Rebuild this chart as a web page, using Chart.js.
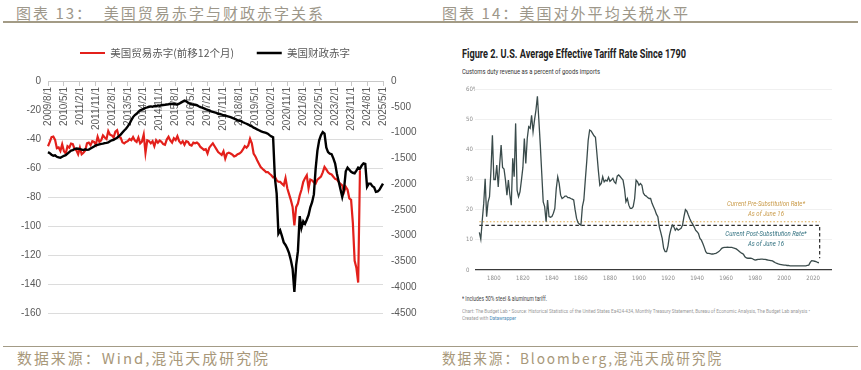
<!DOCTYPE html>
<html>
<head>
<meta charset="utf-8">
<script src="https://cdn.jsdelivr.net/npm/chart.js@4.4.1/dist/chart.umd.min.js"></script>
<style>
  html, body { margin: 0; padding: 0; background: #fff; }
  #page { position: relative; width: 861px; height: 370px; overflow: hidden; background: #fff; }
  .t { position: absolute; white-space: pre; transform-origin: 0 50%; }
  .hd { font-family: "Noto Sans CJK SC"; font-size: 15px; line-height: 20px; letter-spacing: 2px; color: #9d978a; }
  .src { font-family: "Noto Sans CJK SC"; font-size: 14.5px; line-height: 20px; letter-spacing: 2px; color: #a8987a; }
  .rule { position: absolute; height: 1.5px; background: #a39b86; }
  .dw { font-family: Roboto, "Liberation Sans"; color: #222; }
  canvas { position: absolute; }
</style>
</head>
<body>
<div id="page">
  <div class="t hd" style="left:16px;top:3px" data-w="309">图表 13：  美国贸易赤字与财政赤字关系</div>
  <div class="t hd" style="left:442px;top:3px" data-w="248">图表 14：美国对外平均关税水平</div>
  <div class="rule" style="left:3px;top:21px;width:855px"></div>

  <canvas id="c13" width="430" height="302" style="left:0;top:25px"></canvas>

  <div class="t dw" style="left:462px;top:46px;font-size:13px;font-weight:bold;line-height:16px" data-w="224">Figure 2. U.S. Average Effective Tariff Rate Since 1790</div>
  <div class="t dw" style="left:462px;top:67px;font-size:8px;line-height:10px;color:#333" data-w="138">Customs duty revenue as a percent of goods imports</div>
  <canvas id="c14" width="395" height="203" style="left:466px;top:81px"></canvas>
  <div class="t dw" style="left:462px;top:294.5px;font-size:7px;line-height:9px;color:#444" data-w="85">* Includes 50% steel &amp; aluminum tariff.</div>
  <div class="t dw" style="left:462px;top:306.5px;font-size:6px;line-height:8px;color:#999" data-w="348">Chart: The Budget Lab • Source: Historical Statistics of the United States Ea424-434, Monthly Treasury Statement, Bureau of Economic Analysis, The Budget Lab analysis •</div>
  <div class="t dw" style="left:462px;top:313.5px;font-size:6px;line-height:8px;color:#999" data-w="54">Created with <span style="color:#4a8ab5">Datawrapper</span></div>

  <div class="rule" style="left:3px;top:345.5px;width:855px"></div>
  <div class="t src" style="left:17px;top:348px" data-w="253">数据来源：Wind,混沌天成研究院</div>
  <div class="t src" style="left:442px;top:348px" data-w="281">数据来源：Bloomberg,混沌天成研究院</div>
</div>

<script>
// ---- chart 13: trade deficit vs fiscal deficit ----
var firstMonth = [2009, 8];
var lastMonth = [2025, 5];
var months = [];
for (var yr = firstMonth[0], mo = firstMonth[1]; yr < lastMonth[0] || (yr === lastMonth[0] && mo <= lastMonth[1]); ) {
  months.push(yr + "/" + mo + "/1");
  mo++;
  if (mo > 12) { mo = 1; yr++; }
}
var tickEvery = 9;

// US trade balance, bn USD, shifted forward 12 months (left axis)
var tradeDeficit = [
  -45, -42, -38.7, -38.3, -40.6,
  -46.3, -45.8, -48.2, -43.7, -48.5, -50, -45, -46, -43.1, -43.5, -47, -47.8,
  -50.5, -46, -50.5, -49.5, -48, -43, -42.5, -44.2, -41.5, -42, -44, -38.5,
  -42, -41, -37.5, -39, -40, -34.5, -37, -37.5, -39, -35, -34, -38.7,
  -39.1, -42.3, -43, -42, -41.5, -40, -40.8, -38.7, -41, -42, -39, -43,
  -41.8, -37, -49.5, -40.9, -41.5, -43, -41.5, -45, -40.8, -42.5, -41, -42,
  -43.5, -44, -40.4, -38.5, -41, -42.5, -39.5, -40.7, -38, -41.5, -43, -41.5,
  -44, -41.5, -42, -44, -44.5, -42.5, -43, -42.4, -43.5, -45.5, -46.5, -47.5,
  -47, -50, -46, -44.4, -43, -45, -47, -49, -50, -51, -48.5, -53.5,
  -50, -49.4, -50, -50.8, -52, -51.5, -50.5, -50, -49, -47.2, -45, -46,
  -44.4, -39.9, -43, -50, -52, -54.7, -57, -59.3, -60.5, -61.6, -62.8, -62.8,
  -64, -65, -66.5, -66, -68.5, -69.5, -69.6, -70.8, -72, -67, -74, -78,
  -82, -86.8, -99.5, -87, -84.5, -79, -75, -69.6, -67, -65, -74, -68,
  -68.5, -70, -70.8, -68, -67, -66, -63, -59.3, -61, -63, -64, -64.5,
  -66, -67.5, -68, -69.6, -71, -72, -76.5, -73, -75, -81, -82, -98,
  -124, -129, -139, -61.6
];

// US federal deficit, rolling 12 months, bn USD (right axis)
var fiscalDeficit = [
  -1380, -1400, -1430, -1450, -1440,
  -1470, -1480, -1490, -1470, -1450, -1440, -1410, -1380, -1350, -1340, -1320, -1310,
  -1313, -1320, -1330, -1340, -1325, -1335, -1330, -1310, -1290, -1270, -1250, -1240,
  -1230, -1220, -1215, -1205, -1200, -1190, -1170, -1150, -1140, -1120, -1100, -1070,
  -1040, -1000, -960, -926, -880, -829, -760, -700, -660, -635, -600, -570,
  -555, -540, -519, -510, -500, -493, -500, -485, -490, -474, -480, -470,
  -465, -461, -455, -450, -441, -445, -441, -450, -455, -440, -420, -400,
  -380, -395, -420, -441, -450, -455, -461, -470, -490, -507, -515, -530,
  -545, -558, -571, -590, -600, -610, -620, -635, -640, -650, -665, -670,
  -680, -690, -700, -715, -730, -745, -764, -770, -780, -800, -815, -829,
  -845, -865, -880, -906, -920, -940, -955, -971, -985, -995, -1005, -1022,
  -1050, -1074, -1090, -1880, -2180, -2960, -2900, -3010, -3130, -3180, -3250, -3340,
  -3470, -3640, -4090, -3570, -3300, -2620, -2850, -2720, -2770, -2690, -2600, -2450,
  -2350, -2200, -1700, -1350, -1150, -1050, -990, -1020, -1290, -1380, -1410, -1420,
  -1500, -1600, -1800, -1950, -2100, -2250, -2100, -1750, -1680, -1720, -1760, -1780,
  -1790, -1740, -1680, -1700, -1640, -1600, -1610, -2050, -1990, -1990, -2040, -2060,
  -2150, -2140, -2110, -2050, -1990
];

var seriesNames = ["美国贸易赤字(前移12个月)", "美国财政赤字"];

// ---- chart 14: US average effective tariff rate ----
var tariffYears = [
  1790, 1791, 1792, 1793, 1794, 1795, 1796, 1797, 1798, 1799,
  1800, 1801, 1802, 1803, 1804, 1805, 1806, 1807, 1808, 1809,
  1810, 1811, 1812, 1813, 1814, 1815, 1816, 1817, 1818, 1819,
  1820, 1821, 1822, 1823, 1824, 1825, 1826, 1827, 1828, 1829,
  1830, 1831, 1832, 1833, 1834, 1835, 1836, 1837, 1838, 1839,
  1840, 1841, 1842, 1843, 1844, 1845, 1846, 1847, 1848, 1849,
  1850, 1851, 1852, 1853, 1854, 1855, 1856, 1857, 1858, 1859,
  1860, 1861, 1862, 1863, 1864, 1865, 1866, 1867, 1868, 1869,
  1870, 1871, 1872, 1873, 1874, 1875, 1876, 1877, 1878, 1879,
  1880, 1881, 1882, 1883, 1884, 1885, 1886, 1887, 1888, 1889,
  1890, 1891, 1892, 1893, 1894, 1895, 1896, 1897, 1898, 1899,
  1900, 1901, 1902, 1903, 1904, 1905, 1906, 1907, 1908, 1909,
  1910, 1911, 1912, 1913, 1914, 1915, 1916, 1917, 1918, 1919,
  1920, 1921, 1922, 1923, 1924, 1925, 1926, 1927, 1928, 1929,
  1930, 1931, 1932, 1933, 1934, 1935, 1936, 1937, 1938, 1939,
  1940, 1941, 1942, 1943, 1944, 1945, 1946, 1947, 1948, 1949,
  1950, 1951, 1952, 1953, 1954, 1955, 1956, 1957, 1958, 1959,
  1960, 1961, 1962, 1963, 1964, 1965, 1966, 1967, 1968, 1969,
  1970, 1971, 1972, 1973, 1974, 1975, 1976, 1977, 1978, 1979,
  1980, 1981, 1982, 1983, 1984, 1985, 1986, 1987, 1988, 1989,
  1990, 1991, 1992, 1993, 1994, 1995, 1996, 1997, 1998, 1999,
  2000, 2001, 2002, 2003, 2004, 2005, 2006, 2007, 2008, 2009,
  2010, 2011, 2012, 2013, 2014, 2015, 2016, 2017, 2018, 2019,
  2020, 2021, 2022, 2023, 2024
];
var tariffRates = [
  12.5, 10.2, 16.5, 22, 30.2, 17.7, 22.5, 24.3, 33, 44.7,
  30, 30, 34.8, 27.5, 35, 41.4, 34, 33.5, 29.8, 24.8,
  29.8, 25, 21.5, 37, 30.9, 48.6, 26.5, 24.3, 25.9, 29.8,
  34, 43.6, 35.3, 43.6, 47.5, 47, 51.3, 45.8, 49.7, 53,
  57.6, 49.7, 41.4, 32, 22.6, 21, 16, 23.2, 17.7, 17.5,
  17.7, 18.8, 20.4, 27, 30.9, 28.7, 24.8, 23.7, 24, 24.5,
  24.5, 24, 24, 23.7, 23.5, 23.2, 19.9, 17.1, 15.7, 15.2,
  14.9, 21, 23.2, 29.8, 36, 43, 46.4, 46.1, 45.3, 44.5,
  44, 38.6, 33, 28.1, 28.7, 30.9, 29.2, 29.8, 29.5, 30.7,
  29.4, 29.8, 30.4, 29.2, 28.7, 31.1, 31.5, 31, 30.4, 29.8,
  27, 22.6, 23.7, 21.5, 20.4, 20.4, 21, 23.7, 29.8, 29.2,
  28.1, 28.7, 28.1, 25.5, 24.8, 24.5, 24, 23.7, 23.7, 22.1,
  21, 19.9, 18.5, 17.7, 14.3, 12.5, 10.5, 7.2, 6.1, 6.1,
  8, 11.5, 13.5, 14.9, 14.3, 13.2, 13.8, 13.2, 13.5, 13.8,
  14.9, 17.7, 20, 19.5, 18.2, 17, 16, 15.2, 14.3, 13.2,
  12.7, 12.1, 10.5, 9.9, 8.8, 7.5, 6.1, 5.5, 5.5, 5.4,
  5.3, 5.3, 5.4, 5.5, 5.8, 6.1, 6.6, 7.2, 7.4, 7.5,
  7.5, 7.6, 7.5, 7.5, 7.5, 7.3, 7.2, 7, 6.6, 6.2,
  5.8, 5.5, 5.2, 4.4, 4, 3.9, 3.9, 3.9, 3.8, 3.5,
  3.3, 3.4, 3.5, 3.5, 3.6, 3.6, 3.5, 3.5, 3.4, 3.3,
  3.2, 3.1, 3, 2.7, 2.4, 2.2, 2, 1.9, 1.8, 1.7,
  1.6, 1.6, 1.5, 1.5, 1.4, 1.4, 1.4, 1.4, 1.4, 1.4,
  1.4, 1.4, 1.4, 1.4, 1.4, 1.4, 1.5, 1.6, 2.5, 3.1,
  3, 2.9, 2.8, 2.5, 2.4
];
var preSubRate = 16.0;
var postSubRate = 14.8;
var postSubFoot = 3.9;
var rateLineYears = [1790, 2024.5];
var yearTicks = [1800, 1820, 1840, 1860, 1880, 1900, 1920, 1940, 1960, 1980, 2000, 2020];
var rateTicks = [0, 10, 20, 30, 40, 50, 60];
var preNote = ["Current Pre-Substitution Rate*", "As of June 16"];
var postNote = ["Current Post-Substitution Rate*", "As of June 16"];

Chart.defaults.font.family = "'Liberation Sans', Arial, sans-serif";
Chart.defaults.animation = false;

new Chart(document.getElementById("c13"), {
  type: "line",
  data: {
    labels: months,
    datasets: [{
      label: seriesNames[0],
      data: tradeDeficit,
      yAxisID: "y",
      borderColor: "#e3201b",
      backgroundColor: "#e3201b",
      borderWidth: 2.2,
      pointRadius: 0,
      pointStyle: "line",
      order: 1
    }, {
      label: seriesNames[1],
      data: fiscalDeficit,
      yAxisID: "y1",
      borderColor: "#000000",
      backgroundColor: "#000000",
      borderWidth: 2.4,
      pointRadius: 0,
      pointStyle: "line",
      order: 0
    }]
  },
  options: {
    responsive: false,
    layout: { padding: { top: 0, bottom: 6, left: 0, right: 0 } },
    plugins: {
      legend: {
        position: "top",
        labels: {
          usePointStyle: true,
          pointStyle: "line",
          pointStyleWidth: 25,
          padding: 22.75,
          color: "#595959",
          font: { size: 10.5, family: "'Noto Sans CJK SC'" },
          sort: function (a, b) { return a.datasetIndex - b.datasetIndex; }
        }
      },
      // empty title used only as a gap between the legend and the plot
      title: { display: true, text: "", weight: 500, font: { size: 1, lineHeight: 1 }, padding: { top: 11.75, bottom: 0 } },
      tooltip: { enabled: false }
    },
    scales: {
      x: {
        position: { y: 0 },
        afterBuildTicks: function (s) {
          s.ticks = s.ticks.filter(function (t) { return t.value % tickEvery === 0; });
        },
        ticks: {
          autoSkip: false,
          minRotation: 90,
          maxRotation: 90,
          padding: 2,
          color: "#595959",
          font: { size: 10 },
          callback: function (v) { return this.getLabelForValue(v); }
        },
        grid: { drawOnChartArea: false, drawTicks: true, tickLength: 4, color: "#c8c8c8" },
        border: { color: "#c8c8c8" }
      },
      y: {
        position: "left",
        min: -160,
        max: 0,
        ticks: { stepSize: 20, padding: 7, color: "#595959", font: { size: 10 }, callback: function (v) { return v; } },
        grid: { color: "#dcdcdc", drawTicks: false },
        border: { display: false },
        afterFit: function (s) { s.width = 48; }
      },
      y1: {
        position: "right",
        min: -4500,
        max: 0,
        ticks: { stepSize: 500, padding: 8, color: "#595959", font: { size: 10 }, callback: function (v) { return v; } },
        grid: { display: false, drawTicks: false },
        border: { display: false },
        afterFit: function (s) { s.width = 47; }
      }
    }
  }
});

// italic notes inside the tariff chart, squeezed like a condensed face
var notesPlugin = {
  id: "notes",
  afterDatasetsDraw: function (chart) {
    var ctx = chart.ctx, x = chart.scales.x, y = chart.scales.y;
    var blocks = [
      { lines: preNote, color: "#c99a48", at: 1987.5, ys: [21.75, 18.4] },
      { lines: postNote, color: "#2f6f7e", at: 1987.5, ys: [11.9, 8.6] }
    ];
    ctx.save();
    ctx.font = "italic 7.5px Roboto";
    ctx.textAlign = "center";
    ctx.textBaseline = "middle";
    var k = 78 / ctx.measureText(preNote[0]).width;
    blocks.forEach(function (b) {
      ctx.fillStyle = b.color;
      b.lines.forEach(function (txt, i) {
        ctx.save();
        ctx.translate(x.getPixelForValue(b.at), y.getPixelForValue(b.ys[i]));
        ctx.scale(k, 1);
        ctx.fillText(txt, 0, 0);
        ctx.restore();
      });
    });
    ctx.restore();
  }
};

new Chart(document.getElementById("c14"), {
  type: "line",
  data: {
    datasets: [{
      data: tariffYears.map(function (yv, i) { return { x: yv, y: tariffRates[i] }; }),
      borderColor: "#3a4b4b",
      borderWidth: 1.3,
      pointRadius: 0
    }, {
      data: rateLineYears.map(function (yv) { return { x: yv, y: preSubRate }; }),
      borderColor: "#d9a64c",
      borderDash: [1.5, 2],
      borderWidth: 1.2,
      pointRadius: 0
    }, {
      data: [
        { x: rateLineYears[0], y: postSubRate },
        { x: rateLineYears[1], y: postSubRate },
        { x: rateLineYears[1], y: postSubFoot }
      ],
      borderColor: "#2b2b2b",
      borderDash: [3.5, 2.5],
      borderWidth: 1.2,
      pointRadius: 0
    }]
  },
  options: {
    responsive: false,
    layout: { padding: { top: 8, right: 29, left: 0, bottom: 0 } },
    plugins: { legend: { display: false }, tooltip: { enabled: false } },
    scales: {
      x: {
        type: "linear",
        min: 1787,
        max: 2033,
        afterBuildTicks: function (s) { s.ticks = yearTicks.map(function (v) { return { value: v }; }); },
        ticks: {
          padding: 5,
          color: "#8c8c8c",
          font: { size: 6, family: "'Liberation Sans Narrow', 'DejaVu Sans Condensed', Roboto" },
          callback: function (v) { return String(v); }
        },
        grid: { display: false, drawTicks: false },
        border: { display: false },
        afterFit: function (s) { s.height = 14; }
      },
      y: {
        min: 0,
        max: 60,
        afterBuildTicks: function (s) { s.ticks = rateTicks.map(function (v) { return { value: v }; }); },
        ticks: {
          crossAlign: "far",
          padding: 0,
          color: "#8c8c8c",
          font: { size: 6, family: "'Liberation Sans Narrow', 'DejaVu Sans Condensed', Roboto" },
          callback: function (v) { return v === 60 ? "60%" : String(v); }
        },
        grid: {
          drawTicks: false,
          color: function (c) { return c.tick && c.tick.value === 0 ? "#3a3a3a" : "#ececec"; },
          lineWidth: function (c) { return c.tick && c.tick.value === 0 ? 1.2 : 0.8; }
        },
        border: { display: false },
        afterFit: function (s) { s.width = 9; }
      }
    }
  },
  plugins: [notesPlugin]
});

// squeeze the html text lines to the widths seen in the picture
function fitTexts() {
  document.querySelectorAll("[data-w]").forEach(function (el) {
    el.style.transform = "none";
    var w = el.getBoundingClientRect().width;
    if (w > 0) el.style.transform = "scaleX(" + (parseFloat(el.dataset.w) / w) + ")";
  });
}
fitTexts();
if (document.fonts && document.fonts.ready) document.fonts.ready.then(fitTexts);
</script>
</body>
</html>
